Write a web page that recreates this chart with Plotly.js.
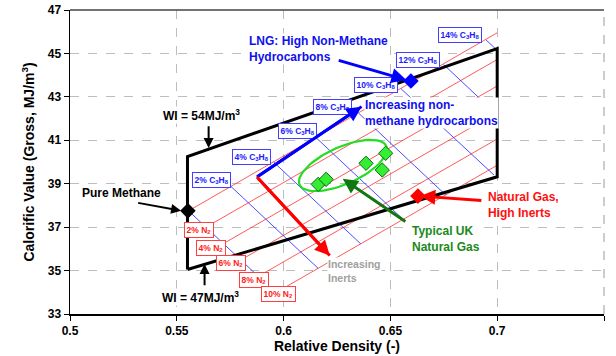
<!DOCTYPE html>
<html>
<head>
<meta charset="utf-8">
<script src="https://cdn.plot.ly/plotly-3.0.1.min.js"></script>
<style>html,body{margin:0;padding:0;background:#fff;}#chart{width:616px;height:356px;}</style>
</head>
<body>
<div id="chart"></div>
<script>
// ---- Data ----
// Wobbe index envelope (WI = 47 and 54 MJ/m3, RD 0.555 - 0.70)
const envRD = [0.555, 0.555, 0.700, 0.700, 0.555];
const envCV = [35.05, 40.25, 45.22, 39.32, 35.05];

// Lines of constant N2 (red), from 0% C3H8 to RD = 0.70
const n2Pct     = [0, 2, 4, 6, 8, 10];
const n2StartRD = [0.5555, 0.5637, 0.5718, 0.5800, 0.5881, 0.5963];
const n2StartCV = [37.75, 37.00, 36.24, 35.49, 34.73, 33.98];
const n2EndRD   = [0.700, 0.700, 0.700, 0.700, 0.700, 0.700];
const n2EndCV   = [45.95, 44.72, 43.50, 42.28, 41.06, 39.85];
const n2LabelRD = [null, 0.5604, 0.5662, 0.5756, 0.5861, 0.5974];
const n2LabelCV = [null, 36.87, 36.04, 35.35, 34.57, 33.92];

// Lines of constant C3H8 (blue), from 0% N2 downwards
const c3Pct     = [0, 2, 4, 6, 8, 10, 12, 14];
const c3StartRD = [0.5555, 0.5754, 0.5953, 0.6152, 0.6351, 0.6550, 0.6749, 0.6948];
const c3StartCV = [37.75, 38.87, 40.00, 41.12, 42.25, 43.37, 44.49, 45.62];
const c3EndRD   = [0.5963, 0.6162, 0.6361, 0.6560, 0.6759, 0.6985, 0.7000, 0.7000];
const c3EndCV   = [33.98, 35.10, 36.23, 37.35, 38.48, 39.40, 42.17, 45.14];
const c3LabelRD = [null, 0.5662, 0.5852, 0.6063, 0.6231, 0.6433, 0.6629, 0.6826];
const c3LabelCV = [null, 39.17, 40.23, 41.43, 42.53, 43.55, 44.70, 45.85];

// Gas points
const methaneRD = [0.5552], methaneCV = [37.75];
const lngRD = [0.6596], lngCV = [43.73];
const inertRD = [0.6629], inertCV = [38.43];
const ukRD = [0.6162, 0.6199, 0.6386, 0.6478, 0.6462];
const ukCV = [38.97, 39.20, 39.94, 40.40, 39.63];

// Direction arrows (start corner, blue tip, red tip)
const cornerRD = 0.5875, cornerCV = 39.31;
const hcTipRD = 0.6365, hcTipCV = 42.55;
const inTipRD = 0.6216, inTipCV = 35.69;

// Axis ticks
const xTicks = [0.5, 0.55, 0.6, 0.65, 0.7, 0.75];
const yTicks = [33, 35, 37, 39, 41, 43, 45, 47];

// ---- Build traces ----
function segs(sx, sy, ex, ey) {
  const X = [], Y = [];
  for (let i = 0; i < sx.length; i++) { X.push(sx[i], ex[i], null); Y.push(sy[i], ey[i], null); }
  return [X, Y];
}
const [rX, rY] = segs(n2StartRD, n2StartCV, n2EndRD, n2EndCV);
const [bX, bY] = segs(c3StartRD, c3StartCV, c3EndRD, c3EndCV);

// ellipse decoration around UK gases (pixel space -> data)
const L = 70, T = 10, PW = 534, PH = 304;
function pxToX(px) { return 0.5 + (px - L) / PW * 0.25; }
function pxToY(py) { return 47 - (py - T) / PH * 14; }
const ex = [], ey = [];
{
  const cx = 343, cy = 165.5, a = 47.5, b = 18.5, th = -24 * Math.PI / 180;
  for (let k = 0; k <= 72; k++) {
    const t = k / 72 * 2 * Math.PI;
    const px = cx + a * Math.cos(t) * Math.cos(th) - b * Math.sin(t) * Math.sin(th);
    const py = cy + a * Math.cos(t) * Math.sin(th) + b * Math.sin(t) * Math.cos(th);
    ex.push(pxToX(px)); ey.push(pxToY(py));
  }
}

const FONT = 'Liberation Sans, Arial, sans-serif';

const traces = [
  {x: rX, y: rY, mode: 'lines', line: {color: '#ff3030', width: 0.8}, hoverinfo: 'skip'},
  {x: bX, y: bY, mode: 'lines', line: {color: '#2020ff', width: 0.8}, hoverinfo: 'skip'},
  {x: envRD, y: envCV, mode: 'lines', line: {color: '#000', width: 3}, hoverinfo: 'skip'},
  {x: ex, y: ey, mode: 'lines', line: {color: '#22dd22', width: 2.2}, hoverinfo: 'skip'},
  {x: [cornerRD, hcTipRD], y: [cornerCV, hcTipCV], mode: 'lines', line: {color: '#0000ff', width: 3}},
  {x: [cornerRD, inTipRD], y: [cornerCV, inTipCV], mode: 'lines', line: {color: '#ff0000', width: 3}},
  {x: methaneRD, y: methaneCV, mode: 'markers', marker: {symbol: 'diamond', size: 12, color: '#000'}},
  {x: lngRD, y: lngCV, mode: 'markers', marker: {symbol: 'diamond', size: 12, color: '#0000ff'}},
  {x: inertRD, y: inertCV, mode: 'markers', marker: {symbol: 'diamond', size: 12, color: '#ff0000'}},
  {x: ukRD, y: ukCV, mode: 'markers', marker: {symbol: 'diamond', size: 11, color: '#33ee33', line: {color: '#116611', width: 1}}}
];

// ---- Annotations ----
const ann = [];
for (let i = 1; i < n2Pct.length; i++) {
  ann.push({x: n2LabelRD[i], y: n2LabelCV[i], xref: 'x', yref: 'y', showarrow: false,
    text: '<b>' + n2Pct[i] + '% N<sub>2</sub></b>', font: {family: FONT, size: 8.5, color: '#ff2020'},
    bgcolor: '#fff', bordercolor: '#ff4040', borderwidth: 1, borderpad: 1.5});
}
for (let i = 1; i < c3Pct.length; i++) {
  ann.push({x: c3LabelRD[i], y: c3LabelCV[i], xref: 'x', yref: 'y', showarrow: false,
    text: '<b>' + c3Pct[i] + '% C<sub>3</sub>H<sub>8</sub></b>', font: {family: FONT, size: 8.5, color: '#2020ff'},
    bgcolor: '#fff', bordercolor: '#4040ff', borderwidth: 1, borderpad: 1.5});
}
function txt(x, y, t, color, size, bg) {
  ann.push({x: x, y: y, xref: 'x', yref: 'y', showarrow: false, xanchor: 'left', yanchor: 'middle', align: 'left',
    text: t, font: {family: FONT, size: size, color: color}, bgcolor: bg ? '#fff' : 'rgba(0,0,0,0)', borderpad: 0});
}
function arrow(tx, ty, hx, hy, color, w) {
  ann.push({x: hx, y: hy, ax: tx, ay: ty, xref: 'x', yref: 'y', axref: 'x', ayref: 'y', text: '',
    showarrow: true, arrowhead: 2, arrowsize: 1, arrowwidth: w, arrowcolor: color, standoff: 0, startstandoff: 0});
}
txt(0.5833, 45.22, '<b>LNG: High Non-Methane<br>Hydrocarbons</b>', '#1010ee', 12, true);
txt(0.6375, 42.26, '<b>Increasing non-<br>methane hydrocarbons</b>', '#1010ee', 12, true);
txt(0.6205, 35.0, '<b>Increasing<br>Inerts</b>', '#a0a0a0', 10.5, true);
txt(0.6950, 38.03, '<b>Natural Gas,<br>High Inerts</b>', '#ff1010', 12, false);
txt(0.6598, 36.47, '<b>Typical UK<br>Natural Gas</b>', '#1a8a1a', 12, true);
txt(0.5050, 38.59, '<b>Pure Methane</b>', '#000', 12, false);
txt(0.5430, 42.17, '<b>WI = 54MJ/m<sup>3</sup></b>', '#000', 12, true);
txt(0.5427, 33.80, '<b>WI = 47MJ/m<sup>3</sup></b>', '#000', 12, true);

arrow(0.6251, 44.70, 0.6575, 43.78, '#0000ff', 3);
arrow(0.5312, 38.13, 0.5520, 37.76, '#000', 2);
arrow(0.5649, 41.71, 0.5649, 40.64, '#000', 2);
arrow(0.5630, 34.26, 0.5630, 35.30, '#000', 2);
arrow(0.6933, 38.22, 0.6640, 38.43, '#ff0000', 3);
arrow(0.6577, 37.21, 0.6277, 39.23, '#117711', 3);
arrow(cornerRD, cornerCV, hcTipRD, hcTipCV, '#0000ff', 3);
arrow(cornerRD, cornerCV, inTipRD, inTipCV, '#ff0000', 3);

const layout = {
  width: 616, height: 356,
  margin: {l: 70, r: 12, t: 10, b: 42, pad: 0},
  paper_bgcolor: '#fff', plot_bgcolor: '#fff',
  showlegend: false,
  font: {family: FONT, color: '#000'},
  xaxis: {
    range: [0.5, 0.75], tickvals: xTicks, ticktext: xTicks.map(String),
    showgrid: true, gridcolor: '#bdbdbd', griddash: 'dash', gridwidth: 1,
    zeroline: false, showline: true, linecolor: '#000', linewidth: 1.5,
    ticks: 'outside', ticklen: 5, tickcolor: '#000', tickwidth: 1,
    tickfont: {family: FONT, size: 12, weight: 'bold'},
    title: {text: '<b>Relative Density (-)</b>', font: {family: FONT, size: 14}, standoff: 2},
    automargin: false
  },
  yaxis: {
    range: [33, 47], tickvals: yTicks, ticktext: yTicks.map(String),
    showgrid: true, gridcolor: '#bdbdbd', griddash: 'dash', gridwidth: 1,
    zeroline: false, showline: true, linecolor: '#000', linewidth: 1.5,
    ticks: 'outside', ticklen: 5, tickcolor: '#000', tickwidth: 1,
    tickfont: {family: FONT, size: 12, weight: 'bold'},
    title: {text: '<b>Calorific Value (Gross, MJ/m<sup>3</sup>)</b>', font: {family: FONT, size: 14}, standoff: 10},
    automargin: false
  },
  shapes: [
    {type: 'line', xref: 'paper', yref: 'paper', x0: 0, x1: 1, y0: 1, y1: 1, line: {color: '#444', width: 1.5}},
    {type: 'line', xref: 'paper', yref: 'paper', x0: 1, x1: 1, y0: 0, y1: 1, line: {color: '#9a9a9a', width: 1, dash: 'dash'}}
  ],
  annotations: ann
};

Plotly.newPlot('chart', traces, layout, {staticPlot: true, displayModeBar: false});
</script>
</body>
</html>
